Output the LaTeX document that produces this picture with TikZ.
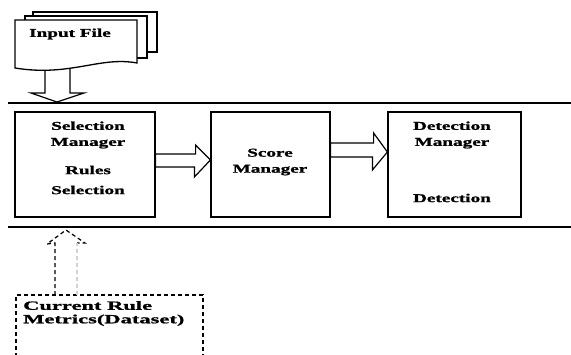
\documentclass[tikz,border=0pt]{standalone}
\usepackage{fontspec}
\setmainfont{Liberation Serif}[FakeStretch=1.6, BoldFeatures={FakeBold=1.2}]
\newfontfamily\widefont{Liberation Serif}[FakeStretch=1.8, BoldFeatures={FakeBold=1.2}]
\begin{document}
\begin{tikzpicture}[x=1pt, y=-1pt,
    box/.style={draw, line width=1.2pt, inner sep=0pt, minimum height=105pt},
    txt/.style={font=\fontsize{12}{16}\selectfont\bfseries, align=center, inner sep=0pt},
    fatarrow/.style={draw, line width=1.2pt, line join=miter, fill=white},
    dotbox/.style={line width=1.2pt, dash pattern=on 4pt off 3pt},
    bus/.style={line width=1.6pt}]
  \clip (0,0) rectangle (571,354);

  % input file stack
  \coordinate (fileb) at (57,64);
  \coordinate (busin) at (57,102);
  \draw[fatarrow] (fileb) ++(-12,0) -- ++(0,29) -- ++(-14,0) -- (busin) -- ++(27,-9) -- ++(-14,0) -- ++(0,-29);
  \draw[line width=1.3pt, fill=white] (33,12) rectangle (157,52);
  \draw[line width=1.3pt, fill=white] (25,16) rectangle (147,58);
  \draw[line width=1.3pt, fill=white] (15,20) -- (137,20) -- (137,63) .. controls (100,56) and (70,77) .. (15,68) -- cycle;
  \node[txt, anchor=west] (inlabel) at (29,34) {Input File};

  % buses
  \draw[bus] (8,103) -- (571,103);
  \draw[bus] (8,227) -- (571,227);

  % managers
  \node[box, minimum width=140pt] (sel) at (85,164.5) {};
  \node[box, minimum width=119pt] (score) at (270.5,164.5) {};
  \node[box, minimum width=133pt] (det) at (454.5,164.5) {};

  \node[txt] (selt) at (88,135) {Selection\\Manager};
  \node[txt] (rulest) at (88,180) {Rules\\[4pt]Selection};
  \node[txt] (scoret) at (270,162) {Score\\Manager};
  \node[txt] (dett) at (452,135) {Detection\\Manager};
  \node[txt] (detdt) at (452,198) {Detection};

  % flow arrows
  \draw[fatarrow] ([yshift=10.5pt]sel.east) -- ++(40,0) -- ++(0,-9) -- ([yshift=4.5pt]score.west)
    -- ++(-16,17) -- ++(0,-10) -- ([yshift=-2.5pt]sel.east) -- cycle;
  \draw[fatarrow] ([yshift=21.5pt]score.east) -- ++(43,0) -- ++(0,-10) -- ([yshift=12.5pt]det.west)
    -- ++(-15,18) -- ++(0,-13) -- ([yshift=7.5pt]score.east) -- cycle;

  % metrics input
  \node[draw, dotbox, inner sep=0pt, minimum width=187pt, minimum height=100pt] (metrics) at (109.5,345) {};
  \node[txt, align=left, anchor=west, font=\widefont\fontsize{12.5}{13.5}\selectfont\bfseries] (metricst) at (23,313.5) {Current Rule\\Metrics(Dataset)};
  \coordinate (upfoot) at (66,295);
  \coordinate (uptip) at (66,230);
  \draw[dotbox] (upfoot) ++(-11,0) -- ++(0,-52) -- ++(-8,1) -- (uptip) -- ++(19,13) -- ++(-8,0);
  \draw[dotbox, gray!35] (upfoot) ++(11,0) -- ++(0,-52);
\end{tikzpicture}
\end{document}
